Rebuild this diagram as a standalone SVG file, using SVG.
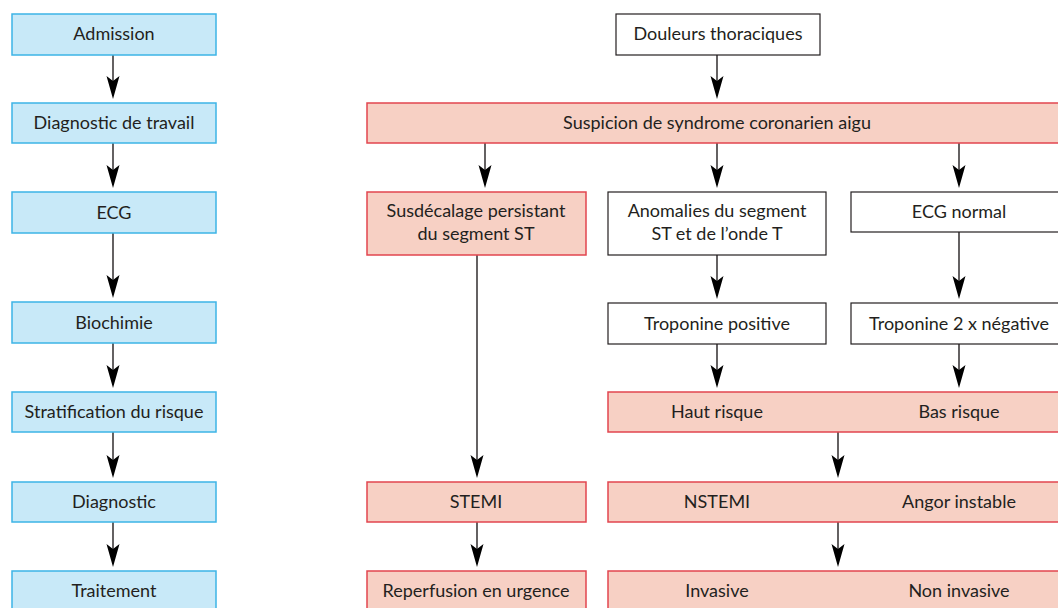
<svg xmlns="http://www.w3.org/2000/svg" width="1058" height="608" viewBox="0 0 1058 608">
<style>
.blue{fill:#c8e9f8;stroke:#3db4e6;stroke-width:1.5}
.pink{fill:#f7d0c4;stroke:#e2454f;stroke-width:1.5}
.white{fill:#fff;stroke:#231f20;stroke-width:1.2}
text{font-family:Lato,"Open Sans",sans-serif;font-size:18px;fill:#231f20;text-anchor:middle;dominant-baseline:central}
.conn line{stroke:#231f20;stroke-width:1.4}
.conn path{fill:#231f20}
</style>
<defs>
<path id="ah" d="M0,0 L-6.5,-23 L0,-18 L6.5,-23 Z"/>
</defs>
<rect width="1058" height="608" fill="#fff"/>

<g class="conn" id="connectors">
<line x1="113" y1="55" x2="113" y2="85"/><use href="#ah" x="113" y="99"/>
<line x1="113" y1="143" x2="113" y2="174"/><use href="#ah" x="113" y="188"/>
<line x1="113" y1="233" x2="113" y2="284"/><use href="#ah" x="113" y="298"/>
<line x1="113" y1="343" x2="113" y2="374"/><use href="#ah" x="113" y="388"/>
<line x1="113" y1="432" x2="113" y2="464"/><use href="#ah" x="113" y="478"/>
<line x1="113" y1="522" x2="113" y2="553"/><use href="#ah" x="113" y="567"/>

<line x1="717" y1="55" x2="717" y2="85"/><use href="#ah" x="717" y="99"/>
<line x1="485" y1="143" x2="485" y2="174"/><use href="#ah" x="485" y="188"/>
<line x1="717" y1="143" x2="717" y2="174"/><use href="#ah" x="717" y="188"/>
<line x1="959" y1="143" x2="959" y2="174"/><use href="#ah" x="959" y="188"/>
<line x1="717" y1="255" x2="717" y2="285"/><use href="#ah" x="717" y="299"/>
<line x1="959" y1="232" x2="959" y2="285"/><use href="#ah" x="959" y="299"/>
<line x1="717" y1="344" x2="717" y2="374"/><use href="#ah" x="717" y="388"/>
<line x1="959" y1="344" x2="959" y2="374"/><use href="#ah" x="959" y="388"/>
<line x1="477" y1="255" x2="477" y2="464"/><use href="#ah" x="477" y="478"/>
<line x1="838" y1="432" x2="838" y2="464"/><use href="#ah" x="838" y="478"/>
<line x1="477" y1="522" x2="477" y2="553"/><use href="#ah" x="477" y="567"/>
<line x1="838" y1="522" x2="838" y2="553"/><use href="#ah" x="838" y="567"/>
</g>

<g id="admission"><rect class="blue" x="12" y="14" width="204" height="41"/><text x="114" y="33">Admission</text></g>
<g id="diag-travail"><rect class="blue" x="12" y="103" width="204" height="40"/><text x="114" y="122">Diagnostic de travail</text></g>
<g id="ecg"><rect class="blue" x="12" y="192" width="204" height="41"/><text x="114" y="211.5">ECG</text></g>
<g id="biochimie"><rect class="blue" x="12" y="302" width="204" height="41"/><text x="114" y="321.5">Biochimie</text></g>
<g id="stratification"><rect class="blue" x="12" y="392" width="204" height="40"/><text x="114" y="411">Stratification du risque</text></g>
<g id="diagnostic"><rect class="blue" x="12" y="482" width="204" height="40"/><text x="114" y="501">Diagnostic</text></g>
<g id="traitement"><rect class="blue" x="12" y="571" width="204" height="42"/><text x="114" y="590">Traitement</text></g>

<g id="douleurs"><rect class="white" x="616" y="14" width="204" height="41"/><text x="718" y="33">Douleurs thoraciques</text></g>
<g id="suspicion"><rect class="pink" x="367" y="103" width="700" height="40"/><text x="717" y="122">Suspicion de syndrome coronarien aigu</text></g>
<g id="susdecalage"><rect class="pink" x="367" y="192" width="219" height="63"/><text x="476" y="210">Susdécalage persistant</text><text x="476" y="233">du segment ST</text></g>
<g id="anomalies"><rect class="white" x="608" y="192" width="218" height="63"/><text x="717" y="210">Anomalies du segment</text><text x="717" y="233">ST et de l’onde T</text></g>
<g id="ecg-normal"><rect class="white" x="851" y="192" width="215" height="40"/><text x="959" y="211">ECG normal</text></g>
<g id="trop-pos"><rect class="white" x="608" y="303" width="218" height="41"/><text x="717" y="322.5">Troponine positive</text></g>
<g id="trop-neg"><rect class="white" x="851" y="303" width="215" height="41"/><text x="959" y="322.5">Troponine 2 x négative</text></g>
<g id="risque"><rect class="pink" x="608" y="392" width="460" height="40"/><text x="717" y="411">Haut risque</text><text x="959" y="411">Bas risque</text></g>
<g id="stemi"><rect class="pink" x="367" y="482" width="219" height="40"/><text x="476" y="501">STEMI</text></g>
<g id="nstemi"><rect class="pink" x="608" y="482" width="460" height="40"/><text x="717" y="501">NSTEMI</text><text x="959" y="501">Angor instable</text></g>
<g id="reperfusion"><rect class="pink" x="367" y="571" width="219" height="42"/><text x="476" y="590">Reperfusion en urgence</text></g>
<g id="invasive"><rect class="pink" x="608" y="571" width="460" height="42"/><text x="717" y="590">Invasive</text><text x="959" y="590">Non invasive</text></g>
</svg>
